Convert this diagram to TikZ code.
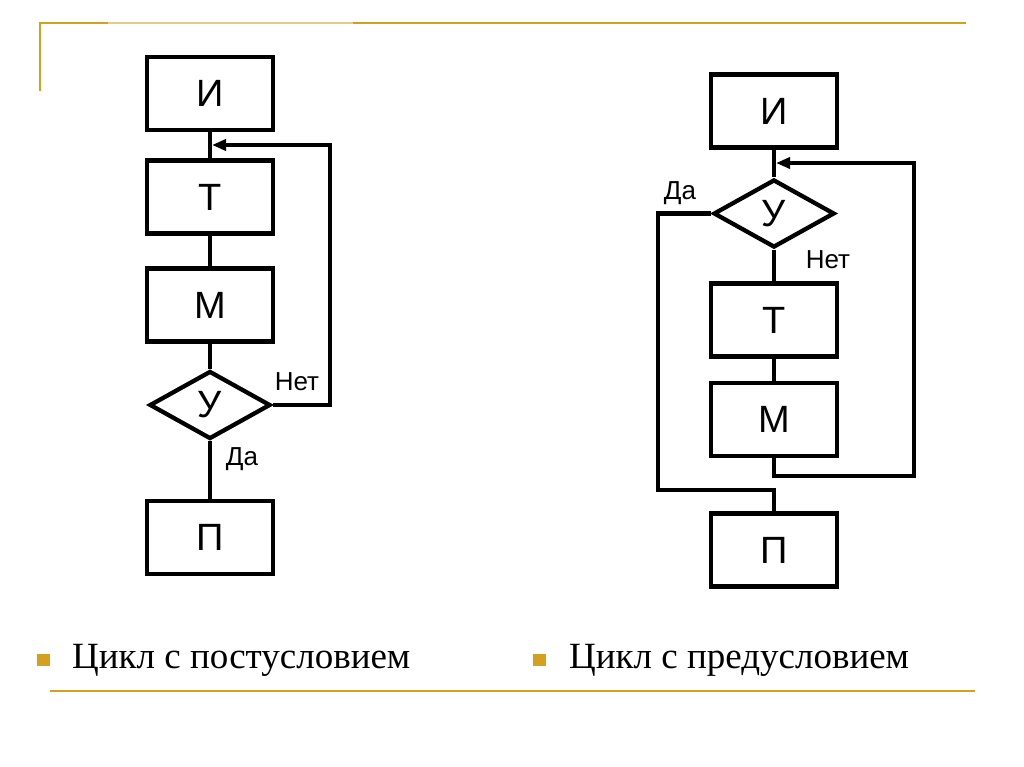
\documentclass[tikz,border=0pt]{standalone}
\usepackage{fontspec}
\setmainfont{Liberation Serif}
\newfontfamily\blkfont{Liberation Sans}
\usepackage{xcolor}
\usetikzlibrary{positioning,arrows.meta,shapes.geometric,calc}
\definecolor{gold}{RGB}{212,160,30}
\definecolor{goldlight}{RGB}{232,202,130}
\tikzset{
  flowline/.style={line width=4.3pt},
  blockbox/.style={draw, rectangle, flowline, minimum width=126pt, minimum height=73pt,
    inner sep=0pt, font=\blkfont\fontsize{38}{40}\selectfont},
  condbox/.style={draw, diamond, flowline, minimum width=121pt, minimum height=68pt,
    inner sep=0pt, font=\blkfont\fontsize{38}{40}\selectfont},
  answer/.style={inner sep=0pt, font=\blkfont\fontsize{26}{28}\selectfont},
  caption/.style={anchor=base west, inner sep=0pt, font=\fontsize{37}{40}\selectfont},
  bulletbox/.style={fill=gold, minimum size=12.5pt, inner sep=0pt},
}

\begin{document}
\begin{tikzpicture}[x=1pt, y=-1pt, >={Triangle[length=14pt,width=11pt]}]
    \useasboundingbox[fill=white] (0,0) rectangle (1024,767);

    % рамка слайда
    \draw[gold, line width=2.5pt] (40,91) -- (40,23) -- (108,23);
    \draw[goldlight, line width=2.5pt] (108,23) -- (353,23);
    \draw[gold, line width=2.5pt] (353,23) -- (966,23);
    \draw[gold, line width=2.5pt] (50,691) -- (975,691);

    % цикл с постусловием
    \node[blockbox] (iL) at (210, 93.5) {И};
    \node[blockbox] (tL) at (210,197) {Т};
    \node[blockbox] (mL) at (210,305) {М};
    \node[condbox]  (yL) at (210,405) {У};
    \node[blockbox] (pL) at (210,537.5) {П};
    \coordinate (jL) at (210,145);
    \coordinate (loopL) at (330,405);

    \draw[flowline] (iL) -- (tL);
    \draw[flowline] (tL) -- (mL);
    \draw[flowline] (mL) -- (yL);
    \draw[flowline] (yL) -- (pL);
    \draw[flowline, ->, shorten >=2pt] (yL.east) -- (loopL) |- (jL);
    \node[answer] (netL) at (297,382) {Нет};
    \node[answer] (daL) at (242,459) {Да};

    % цикл с предусловием
    \node[blockbox] (iR) at (774,111) {И};
    \node[condbox]  (yR) at (774,213.5) {У};
    \node[blockbox] (tR) at (774,320) {Т};
    \node[blockbox] (mR) at (774,419.5) {М};
    \node[blockbox] (pR) at (774,550) {П};
    \coordinate (jR) at (774,163);
    \coordinate (backR) at (914,476);
    \coordinate (daR) at (658,490);

    \draw[flowline] (iR) -- (yR);
    \draw[flowline] (yR) -- (tR);
    \draw[flowline] (tR) -- (mR);
    \draw[flowline, ->, shorten >=2pt] (mR.south) |- (backR) |- (jR);
    \draw[flowline] (yR.west) -| (daR) -| (pR.north);
    \node[answer] (daR2) at (680,193) {Да};
    \node[answer] (netR) at (828,260) {Нет};

    % подписи
    \node[bulletbox] (b1) at (43.5,660) {};
    \node[caption] (c1) at (72,668) {Цикл с постусловием};
    \node[bulletbox] (b2) at (539.5,660) {};
    \node[caption] (c2) at (569,668) {Цикл с предусловием};
\end{tikzpicture}
\end{document}
